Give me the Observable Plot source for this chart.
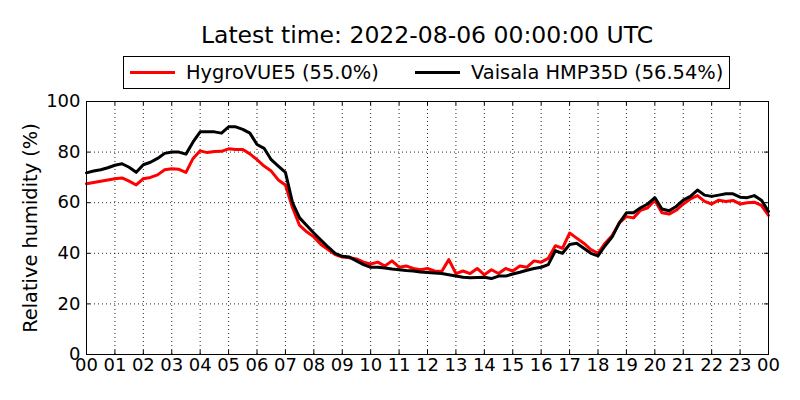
<!DOCTYPE html>
<html>
<head>
<meta charset="utf-8">
<script src="https://cdn.jsdelivr.net/npm/d3@7"></script>
<script src="https://cdn.jsdelivr.net/npm/@observablehq/plot@0.6"></script>
<style>
  html, body { margin: 0; padding: 0; background: #fff; }
  #wrap { position: relative; width: 800px; height: 400px; font-family: "DejaVu Sans", sans-serif; color: #000; }
  #title { position: absolute; left: 86px; width: 682px; top: 20px; text-align: center; font-size: 23.5px; line-height: 30px; white-space: nowrap; }
  #legend { position: absolute; left: 123px; top: 56px; width: 605px; height: 31px; border: 1px solid #000; font-size: 19.4px; }
  .swatch { position: absolute; top: 14px; width: 45px; height: 3px; }
  .ltext { position: absolute; top: 0; line-height: 31px; white-space: nowrap; }
  #chart { position: absolute; left: 0; top: 94px; }
</style>
</head>
<body>
<div id="wrap">
  <div id="title"></div>
  <div id="legend"></div>
  <div id="chart"></div>
</div>
<script>
const titleText = "Latest time: 2022-08-06 00:00:00 UTC";
const seriesNames = ["HygroVUE5 (55.0%)", "Vaisala HMP35D (56.54%)"];
const seriesColors = ["#ff0000", "#000000"];
const yLabel = "Relative humidity (%)";

// hours since 00 UTC, step 0.25 h
const hours = d3.range(0, 97).map(i => i / 4);

const hygroVUE5 = [
  67.5, 68, 68.5, 69, 69.5, 69.8, 68.5, 67, 69.5, 70, 71, 73,
  73.4, 73.2, 72, 77.5, 80.5, 79.8, 80.2, 80.3, 81.3, 81, 81, 79.3,
  77, 74.5, 72.5, 69, 67, 58, 51, 48.5, 46.5, 43.5, 41.5, 39.5,
  38.5, 38.2, 37.8, 36.5, 35.8, 36.5, 35, 37, 34.5, 35, 34, 33.5,
  34, 33, 32.8, 37.5, 32, 33, 32, 34, 31.5, 33.5, 32, 34,
  33, 35, 34.5, 37, 36.5, 38, 43, 42, 48, 46, 44, 41.5,
  40, 44, 47, 52, 54.5, 54, 57, 58, 61, 56, 55.5, 57,
  59.5, 61.5, 62.8, 60.5, 59.5, 61, 60.5, 60.9, 59.5, 60, 60.2, 58.9,
  55.0
];

const hmp35d = [
  71.8, 72.5, 73, 73.8, 74.8, 75.4, 74, 72, 75, 76, 77.5, 79.5,
  80, 80, 79.2, 84, 88, 88, 88, 87.5, 90, 90, 89, 87.5,
  83, 81.5, 77, 74.5, 72, 60, 54, 51, 48, 45.2, 42.5, 40,
  38.8, 38.5, 37, 35.5, 34.5, 34.5, 34.2, 33.8, 33.5, 33.2, 33, 32.6,
  32.4, 32.2, 32, 31.5, 31, 30.5, 30.3, 30.4, 30.5, 30, 31, 31,
  31.8, 32.5, 33.3, 34, 34.5, 35.5, 41, 40, 43.5, 44, 42, 40,
  39, 43, 46.5, 52, 56, 56, 58, 59.5, 62, 57.5, 56.8, 58.5,
  61, 62.5, 65, 63, 62.5, 63, 63.5, 63.5, 62.2, 62, 62.8, 61,
  56.54
];

const xTicks = d3.range(0, 25);
const yTicks = [0, 20, 40, 60, 80, 100];

document.getElementById("title").textContent = titleText;
const leg = document.getElementById("legend");
const swatchLeft = [6, 291];
const textLeft = [62, 347];
seriesNames.forEach((n, i) => {
  const sw = document.createElement("div");
  sw.className = "swatch";
  sw.style.left = swatchLeft[i] + "px";
  sw.style.background = seriesColors[i];
  const tx = document.createElement("div");
  tx.className = "ltext";
  tx.style.left = textLeft[i] + "px";
  tx.textContent = n;
  leg.appendChild(sw); leg.appendChild(tx);
});

const red = hours.map((h, i) => ({h, v: hygroVUE5[i]}));
const blk = hours.map((h, i) => ({h, v: hmp35d[i]}));

const tickLenX = 4 / 28.42; // hours
const tickLenY = 4 / 2.53;  // percent

const chart = Plot.plot({
  width: 800,
  height: 306,
  marginTop: 7,
  marginBottom: 46,
  marginLeft: 86,
  marginRight: 32,
  style: {fontFamily: "DejaVu Sans, sans-serif", fontSize: "18px", color: "#000", background: "#fff", overflow: "visible"},
  x: {domain: [0, 24], type: "linear"},
  y: {domain: [0, 100]},
  marks: [
    Plot.gridX(xTicks, {stroke: "#000", strokeOpacity: 0.85, strokeDasharray: "1,3", strokeWidth: 1}),
    Plot.gridY(yTicks, {stroke: "#000", strokeOpacity: 0.85, strokeDasharray: "1,3", strokeWidth: 1}),
    Plot.ruleX(xTicks, {x: d => d, y1: 0, y2: tickLenY, stroke: "#000"}),
    Plot.ruleX(xTicks, {x: d => d, y1: 100 - tickLenY, y2: 100, stroke: "#000"}),
    Plot.ruleY(yTicks, {y: d => d, x1: 0, x2: tickLenX, stroke: "#000"}),
    Plot.ruleY(yTicks, {y: d => d, x1: 24 - tickLenX, x2: 24, stroke: "#000"}),
    Plot.line(red, {x: "h", y: "v", stroke: seriesColors[0], strokeWidth: 3}),
    Plot.line(blk, {x: "h", y: "v", stroke: seriesColors[1], strokeWidth: 3}),
    Plot.frame({stroke: "#000", strokeWidth: 1}),
    Plot.axisX(xTicks, {tickSize: 0, tickPadding: 4, tickFormat: d => String(d % 24).padStart(2, "0"), label: null, fontSize: 18}),
    Plot.axisY(yTicks, {tickSize: 0, tickPadding: 6, label: null, fontSize: 18}),
    Plot.text([yLabel], {frameAnchor: "left", dx: -56, rotate: -90, text: d => d, fontSize: 19.4, textAnchor: "middle"})
  ]
});
document.getElementById("chart").appendChild(chart);
</script>
</body>
</html>
